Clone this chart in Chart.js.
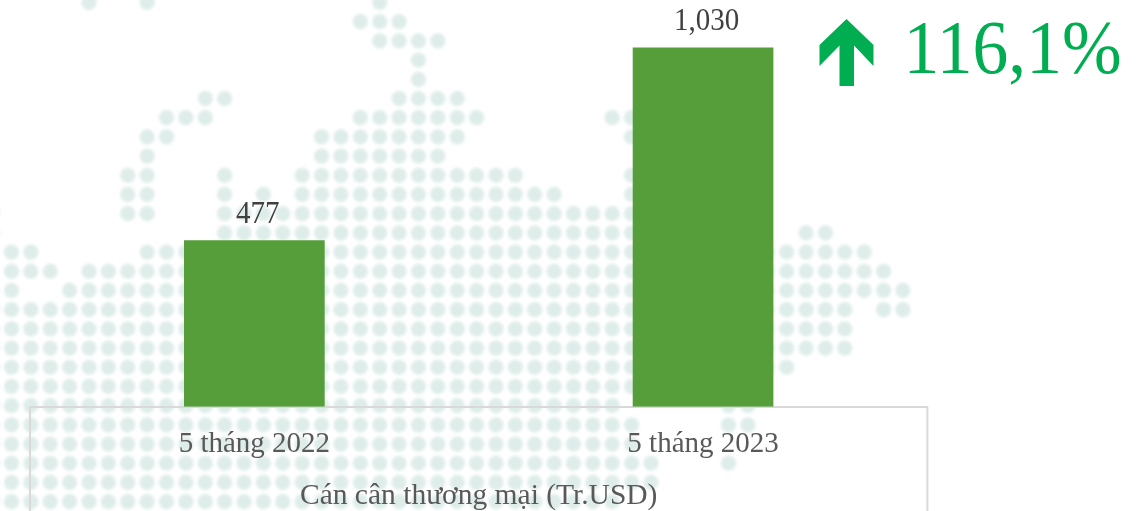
<!DOCTYPE html>
<html>
<head>
<meta charset="utf-8">
<style>
html,body{margin:0;padding:0;background:#fff;overflow:hidden;width:1143px;height:511px}
canvas{display:block;position:absolute}
#map{left:-20px;top:-20px}
#c{left:0;top:0}
</style>
<script src="https://cdn.jsdelivr.net/npm/chart.js@4"></script>
</head>
<body>
<canvas id="map" width="1183" height="551"></canvas>
<canvas id="c" width="1143" height="511"></canvas>
<script>
const categories = ['5 tháng 2022', '5 tháng 2023'];
const balanceValues = [477, 1030];
const axisTitle = 'Cán cân thương mại (Tr.USD)';
const growthLabel = '116,1%';
const mapRows = [
 [0,4,4],[0,7,7],[0,19,19],
 [1,18,20],[2,19,22],[3,21,21],[4,21,21],
 [5,10,11],[5,20,23],
 [6,8,10],[6,18,24],[6,31,32],
 [7,7,8],[7,16,23],[7,32,32],
 [8,7,7],[8,16,22],
 [9,6,7],[9,11,11],[9,15,26],[9,32,32],
 [10,6,7],[10,11,11],[10,13,13],[10,15,28],[10,32,32],
 [11,-1,-1],[11,6,7],[11,11,32],
 [12,-1,-1],[12,11,32],[12,41,42],
 [13,0,1],[13,7,32],[13,39,44],
 [14,0,2],[14,4,32],[14,39,45],
 [15,-1,0],[15,3,32],[15,39,46],
 [16,-1,32],[16,39,43],[16,45,46],
 [17,-1,32],[17,39,43],
 [18,-1,32],[18,39,43],
 [19,-1,32],[19,39,40],
 [20,-1,32],
 [21,-1,31],[21,37,38],
 [22,-1,32],[22,37,38],
 [23,-1,32],
 [24,-1,33],[24,37,37],
 [25,-1,33],
 [26,-1,31]
];
const mapDots = [];
for (const [row, from, to] of mapRows) for (let col = from; col <= to; col++) mapDots.push({x: col, y: row});

const serif = '"Liberation Serif", "Times New Roman", serif';

const softDots = {
  id: 'softDots',
  beforeDatasetDraw(chart) { chart.ctx.save(); chart.ctx.filter = 'blur(1.5px)'; },
  afterDatasetDraw(chart) { chart.ctx.restore(); }
};

new Chart(document.getElementById('map'), {
  type: 'scatter',
  data: {datasets: [{
    label: 'map',
    data: mapDots,
    backgroundColor: '#deedea',
    pointRadius: 7.6,
    pointBorderWidth: 0,
    clip: false
  }]},
  options: {
    responsive: false,
    animation: false,
    layout: {padding: 0, autoPadding: false},
    plugins: {legend: {display: false}, tooltip: {enabled: false}},
    scales: {
      x: {type: 'linear', display: false, min: -1.625, max: 59.42},
      y: {type: 'linear', display: false, reverse: true, min: -1.172, max: 27.53}
    }
  },
  plugins: [softDots]
});

const annotations = {
  id: 'annotations',
  afterDraw(chart) {
    const {ctx, chartArea: a, height} = chart;
    ctx.save();
    // chart frame, running off the bottom of the picture
    ctx.strokeStyle = '#d9d9d9';
    ctx.lineWidth = 2;
    ctx.beginPath();
    ctx.moveTo(a.left, a.bottom);
    ctx.lineTo(a.left, height);
    ctx.moveTo(a.right, a.bottom);
    ctx.lineTo(a.right, height);
    ctx.stroke();
    // bar value labels
    const meta = chart.getDatasetMeta(0);
    ctx.fillStyle = '#404040';
    ctx.font = '29px ' + serif;
    ctx.textAlign = 'center';
    ctx.textBaseline = 'alphabetic';
    meta.data.forEach((bar, i) => {
      ctx.save();
      ctx.translate(bar.x + 3.5, bar.y - 17);
      ctx.scale(1, 1.06);
      ctx.fillText(balanceValues[i].toLocaleString('en-US'), 0, 0);
      ctx.restore();
    });
    // growth callout
    ctx.fillStyle = '#00ad50';
    ctx.beginPath();
    [[846.5,19],[873.5,45],[873.5,66],[854,45.5],[854,86],[839.5,86],[839.5,45.5],[819.5,66],[819.5,45]]
      .forEach((p, i) => i ? ctx.lineTo(p[0], p[1]) : ctx.moveTo(p[0], p[1]));
    ctx.closePath();
    ctx.fill();
    ctx.font = '71.6px ' + serif;
    ctx.textAlign = 'left';
    ctx.translate(903.5, 73);
    ctx.scale(1, 1.055);
    ctx.fillText(growthLabel, 0, 0);
    ctx.restore();
  }
};

new Chart(document.getElementById('c'), {
  type: 'bar',
  data: {
    labels: categories,
    datasets: [{
      label: axisTitle,
      data: balanceValues,
      backgroundColor: '#559e3a',
      barPercentage: 1,
      categoryPercentage: 0.3135
    }]
  },
  options: {
    responsive: false,
    animation: false,
    layout: {padding: {left: 30, right: 215.6, top: 0, bottom: 0}},
    plugins: {legend: {display: false}, tooltip: {enabled: false}, title: {display: false}},
    scales: {
      x: {
        type: 'category',
        grid: {display: false, drawTicks: false},
        border: {display: true, color: '#d9d9d9', width: 2},
        ticks: {color: '#595959', font: {family: serif, size: 29}, padding: 20, maxRotation: 0},
        title: {display: true, text: axisTitle, color: '#595959', font: {family: serif, size: 29.5, lineHeight: 1}, padding: {top: 0, bottom: 0}}
      },
      y: {type: 'linear', display: false, min: 0, max: 1166}
    }
  },
  plugins: [annotations]
});
</script>
</body>
</html>
